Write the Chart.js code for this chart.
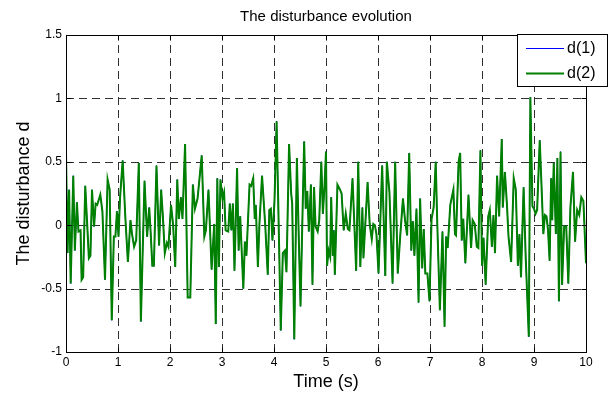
<!DOCTYPE html>
<html><head><meta charset="utf-8">
<script src="https://cdn.jsdelivr.net/npm/chart.js@4.4.1/dist/chart.umd.min.js"></script>
<style>html,body{margin:0;padding:0;background:#fff;}#wrap{width:614px;height:396px;}</style>
</head><body><div id="wrap"><canvas id="c" width="614" height="396"></canvas></div>
<script>
const chartTitle = 'The disturbance evolution';
const xTitle = 'Time (s)';
const yTitle = 'The disturbance d';
const seriesLabels = ['d(1)', 'd(2)'];
const xTicks = [0,1,2,3,4,5,6,7,8,9,10];
const yTicks = [-1,-0.5,0,0.5,1,1.5];
const times = [
0.00,0.03,0.06,0.09,0.14,0.17,0.21,0.24,0.28,0.30,0.33,0.37,0.40,0.44,0.47,0.50,0.54,0.57,0.60,0.66,0.70,0.75,0.80,0.84,0.88,0.92,0.95,0.98,
1.01,1.04,1.09,1.14,1.19,1.24,1.27,1.31,1.35,1.40,1.44,1.51,1.56,1.60,1.63,1.66,1.69,1.74,1.79,1.83,1.86,1.90,1.94,1.97,
2.02,2.06,2.10,2.14,2.17,2.21,2.24,2.29,2.34,2.39,2.44,2.48,2.53,2.61,2.66,2.69,2.74,2.80,2.85,2.88,2.91,2.94,2.97,
3.01,3.04,3.07,3.12,3.15,3.18,3.21,3.24,3.29,3.32,3.35,3.39,3.41,3.44,3.47,3.53,3.56,3.60,3.63,3.65,3.69,3.72,3.77,3.83,3.88,3.91,3.94,3.97,
4.01,4.05,4.10,4.13,4.17,4.21,4.24,4.29,4.33,4.35,4.39,4.44,4.47,4.51,4.55,4.58,4.61,4.64,4.67,4.71,4.74,4.77,4.80,4.84,4.87,4.91,4.94,4.97,
5.00,5.02,5.05,5.08,5.10,5.13,5.15,5.17,5.22,5.27,5.30,5.34,5.38,5.42,5.45,5.51,5.58,5.62,5.66,5.70,5.72,5.80,5.84,5.88,5.91,5.94,5.97,
6.01,6.08,6.14,6.17,6.22,6.28,6.33,6.38,6.43,6.48,6.52,6.56,6.60,6.64,6.67,6.70,6.74,6.78,6.81,6.85,6.88,6.91,6.95,6.99,
7.03,7.07,7.11,7.14,7.19,7.24,7.28,7.31,7.34,7.39,7.42,7.45,7.48,7.50,7.55,7.58,7.61,7.64,7.68,7.74,7.79,7.82,7.86,7.90,7.93,7.97,
8.00,8.03,8.07,8.12,8.15,8.19,8.22,8.25,8.29,8.33,8.38,8.40,8.44,8.48,8.51,8.56,8.61,8.65,8.69,8.72,8.75,8.80,8.84,8.90,8.93,8.97,
9.00,9.03,9.06,9.11,9.14,9.18,9.21,9.24,9.27,9.30,9.33,9.35,9.38,9.42,9.45,9.48,9.51,9.54,9.58,9.62,9.66,9.70,9.75,9.79,9.83,9.87,9.91,9.95,10.00
];
const d2Values = [
0.57,-0.22,0.28,-0.46,0.39,-0.20,0.18,-0.05,-0.04,-0.43,-0.41,0.31,0.07,-0.26,-0.24,0.28,-0.01,0.17,0.16,0.24,0.11,-0.43,0.36,0.28,-0.75,-0.09,-0.09,0.11,
-0.09,0.22,0.51,0.07,-0.29,0.04,-0.07,-0.17,-0.12,0.49,-0.76,0.35,-0.09,0.14,-0.07,-0.32,-0.32,0.47,-0.16,0.28,0.09,-0.22,-0.14,-0.17,
0.16,0.00,-0.33,0.36,0.05,0.22,0.05,0.64,-0.57,-0.57,0.32,0.13,0.21,0.55,-0.09,-0.04,0.28,-0.35,0.01,-0.78,0.37,-0.33,0.36,
0.21,0.26,-0.04,-0.05,0.17,-0.04,0.17,-0.36,0.45,-0.20,0.07,-0.31,-0.50,-0.13,-0.24,0.32,0.31,0.37,0.05,0.16,-0.33,0.01,0.39,0.01,-0.39,0.12,0.13,-0.12,
0.20,0.82,-0.20,-0.83,-0.22,-0.20,-0.37,0.64,0.25,0.17,-0.90,0.53,0.01,-0.64,0.12,0.66,0.13,0.27,-0.05,0.32,-0.47,0.30,-0.01,-0.05,0.04,0.50,0.09,0.30,
0.58,-0.32,-0.20,-0.25,0.22,-0.24,-0.04,-0.39,0.32,0.28,0.25,-0.04,0.09,-0.03,-0.04,0.37,-0.36,0.50,-0.33,0.14,-0.26,0.34,0.01,-0.11,0.01,0.00,-0.07,
-0.38,0.47,-0.40,0.50,0.26,-0.46,0.50,-0.38,-0.07,0.21,0.04,-0.08,0.57,-0.20,0.03,-0.24,0.13,-0.61,0.21,-0.34,-0.03,-0.38,-0.38,-0.60,
0.05,0.14,0.50,0.01,-0.67,-0.05,-0.80,-0.09,-0.18,0.16,0.22,0.28,-0.07,-0.08,0.50,0.57,-0.12,0.05,-0.30,0.24,-0.18,0.04,0.01,-0.17,-0.18,0.59,
-0.32,-0.10,-0.47,0.07,0.12,-0.17,0.08,-0.22,0.39,0.07,0.68,0.14,0.42,0.16,-0.09,-0.29,0.37,0.28,-0.32,-0.07,-0.41,0.30,-0.25,-0.88,1.01,0.15,
0.13,0.09,0.12,0.67,0.36,-0.07,0.08,0.07,-0.04,-0.28,0.37,0.04,0.49,-0.07,0.53,-0.60,0.58,-0.47,-0.01,-0.01,-0.46,0.14,0.42,-0.13,0.12,0.08,0.22,0.19,-0.30
];
const d1Values = d2Values.slice();
const seriesColors = ['#0000ff', '#008000'];

const FONT = "'Liberation Sans', Arial, sans-serif";

const frame = {
  id: 'frame',
  beforeDatasetsDraw(chart) {
    const {ctx, chartArea: a, scales: {x, y}} = chart;
    ctx.save();
    ctx.strokeStyle = '#303030';
    ctx.lineWidth = 1;
    ctx.setLineDash([8, 5]);
    xTicks.forEach(v => {
      if (v === xTicks[0] || v === xTicks[xTicks.length - 1]) return;
      const px = Math.round(x.getPixelForValue(v)) + 0.5;
      ctx.beginPath(); ctx.moveTo(px, a.bottom); ctx.lineTo(px, a.top); ctx.stroke();
    });
    yTicks.forEach(v => {
      if (v === yTicks[0] || v === yTicks[yTicks.length - 1]) return;
      const py = Math.round(y.getPixelForValue(v)) + 0.5;
      ctx.beginPath(); ctx.moveTo(a.left, py); ctx.lineTo(a.right, py); ctx.stroke();
    });
    ctx.restore();
  },
  afterDatasetsDraw(chart) {
    const {ctx, chartArea: a, scales: {x, y}} = chart;
    ctx.save();
    ctx.strokeStyle = '#000';
    ctx.lineWidth = 1;
    ctx.setLineDash([]);
    const L = Math.round(a.left) + 0.5, R = Math.round(a.right) + 0.5;
    const T = Math.round(a.top) + 0.5, B = Math.round(a.bottom) + 0.5;
    ctx.strokeRect(L, T, R - L, B - T);
    ctx.beginPath();
    xTicks.forEach(v => {
      const px = Math.round(x.getPixelForValue(v)) + 0.5;
      ctx.moveTo(px, B); ctx.lineTo(px, B - 5);
      ctx.moveTo(px, T); ctx.lineTo(px, T + 5);
    });
    yTicks.forEach(v => {
      const py = Math.round(y.getPixelForValue(v)) + 0.5;
      ctx.moveTo(L, py); ctx.lineTo(L + 5, py);
      ctx.moveTo(R, py); ctx.lineTo(R - 5, py);
    });
    ctx.stroke();
    // title
    ctx.fillStyle = '#000';
    ctx.font = '15px ' + FONT;
    ctx.textAlign = 'center';
    ctx.textBaseline = 'middle';
    ctx.fillText(chartTitle, (a.left + a.right) / 2, 17);
    // legend
    const bx = 517.5, by = 34.5, bw = 90, bh = 52;
    ctx.fillStyle = '#fff';
    ctx.fillRect(bx, by, bw, bh);
    ctx.strokeStyle = '#000';
    ctx.strokeRect(bx, by, bw, bh);
    ctx.font = '16px ' + FONT;
    ctx.textAlign = 'left';
    const rows = [48, 73];
    chart.data.datasets.slice().sort((p, q) => seriesLabels.indexOf(p.label) - seriesLabels.indexOf(q.label)).forEach((ds, i) => {
      const ry = rows[i] + 0.5;
      ctx.strokeStyle = ds.borderColor;
      ctx.lineWidth = ds.borderWidth;
      ctx.beginPath(); ctx.moveTo(526, ry); ctx.lineTo(564, ry); ctx.stroke();
      ctx.fillStyle = '#000';
      ctx.fillText(ds.label, 567, rows[i] + 1);
    });
    ctx.restore();
  }
};

new Chart(document.getElementById('c'), {
  type: 'line',
  data: {
    datasets: [
      { label: seriesLabels[0], data: times.map((t, i) => ({x: t, y: d1Values[i]})), borderColor: seriesColors[0], borderWidth: 1, pointRadius: 0, tension: 0, order: 1 },
      { label: seriesLabels[1], data: times.map((t, i) => ({x: t, y: d2Values[i]})), borderColor: seriesColors[1], borderWidth: 2, pointRadius: 0, tension: 0, order: 0 }
    ]
  },
  options: {
    responsive: false,
    animation: false,
    devicePixelRatio: 1,
    layout: { padding: { top: 35, right: 28, left: 0, bottom: 0 } },
    plugins: { legend: { display: false }, title: { display: false }, tooltip: { enabled: false } },
    scales: {
      x: {
        type: 'linear', min: 0, max: 10,
        afterBuildTicks: s => { s.ticks = xTicks.map(v => ({value: v})); },
        afterFit: s => { s.height = 44; },
        ticks: { color: '#000', font: { family: FONT, size: 12 }, padding: 3, callback: v => String(v), maxRotation: 0 },
        grid: { display: false, drawTicks: false },
        border: { display: false },
        title: { display: true, text: xTitle, color: '#000', font: { family: FONT, size: 18 }, padding: { top: 0, bottom: 3 } }
      },
      y: {
        type: 'linear', min: -1, max: 1.5,
        afterBuildTicks: s => { s.ticks = yTicks.map(v => ({value: v})); },
        afterFit: s => { s.width = 66; },
        ticks: { color: '#000', font: { family: FONT, size: 12 }, padding: 4, callback: v => String(v) },
        grid: { display: false, drawTicks: false },
        border: { display: false },
        title: { display: true, text: yTitle, color: '#000', font: { family: FONT, size: 18 }, padding: { top: 13, bottom: 0 } }
      }
    }
  },
  plugins: [frame]
});
</script>
</body></html>
